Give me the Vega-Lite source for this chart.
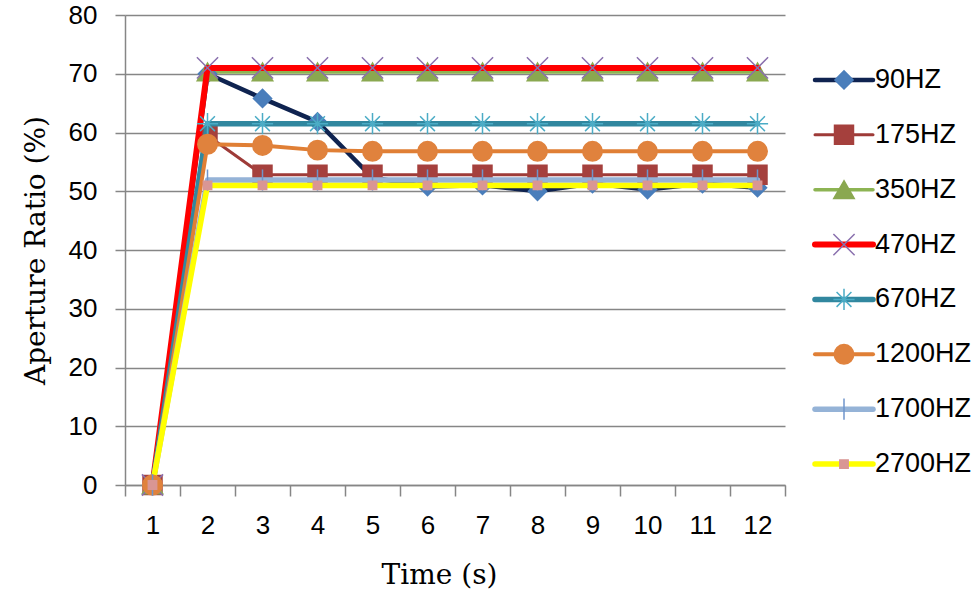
{
  "$schema": "https://vega.github.io/schema/vega-lite/v6.json",
  "background": "white",
  "padding": {"left": 22, "top": 2, "right": 0, "bottom": 0},
  "autosize": {"type": "pad"},
  "bounds": "flush",
  "spacing": 30,
  "config": {"view": {"stroke": null}, "font": "Liberation Sans"},
  "datasets": {
    "aperture": [
      {"t": 1, "series": "90HZ", "v": 0}, {"t": 2, "series": "90HZ", "v": 70}, {"t": 3, "series": "90HZ", "v": 65.8}, {"t": 4, "series": "90HZ", "v": 61.8},
      {"t": 5, "series": "90HZ", "v": 52.3}, {"t": 6, "series": "90HZ", "v": 50.8}, {"t": 7, "series": "90HZ", "v": 51.0}, {"t": 8, "series": "90HZ", "v": 50.0},
      {"t": 9, "series": "90HZ", "v": 51.3}, {"t": 10, "series": "90HZ", "v": 50.3}, {"t": 11, "series": "90HZ", "v": 51.3}, {"t": 12, "series": "90HZ", "v": 50.6},
      {"t": 1, "series": "175HZ", "v": 0}, {"t": 2, "series": "175HZ", "v": 59.5}, {"t": 3, "series": "175HZ", "v": 52.8}, {"t": 4, "series": "175HZ", "v": 52.8},
      {"t": 5, "series": "175HZ", "v": 52.8}, {"t": 6, "series": "175HZ", "v": 52.8}, {"t": 7, "series": "175HZ", "v": 52.8}, {"t": 8, "series": "175HZ", "v": 52.8},
      {"t": 9, "series": "175HZ", "v": 52.8}, {"t": 10, "series": "175HZ", "v": 52.8}, {"t": 11, "series": "175HZ", "v": 52.8}, {"t": 12, "series": "175HZ", "v": 52.8},
      {"t": 1, "series": "350HZ", "v": 0}, {"t": 2, "series": "350HZ", "v": 70.3}, {"t": 3, "series": "350HZ", "v": 70.3}, {"t": 4, "series": "350HZ", "v": 70.3},
      {"t": 5, "series": "350HZ", "v": 70.3}, {"t": 6, "series": "350HZ", "v": 70.3}, {"t": 7, "series": "350HZ", "v": 70.3}, {"t": 8, "series": "350HZ", "v": 70.3},
      {"t": 9, "series": "350HZ", "v": 70.3}, {"t": 10, "series": "350HZ", "v": 70.3}, {"t": 11, "series": "350HZ", "v": 70.3}, {"t": 12, "series": "350HZ", "v": 70.3},
      {"t": 1, "series": "470HZ", "v": 0}, {"t": 2, "series": "470HZ", "v": 71}, {"t": 3, "series": "470HZ", "v": 71}, {"t": 4, "series": "470HZ", "v": 71},
      {"t": 5, "series": "470HZ", "v": 71}, {"t": 6, "series": "470HZ", "v": 71}, {"t": 7, "series": "470HZ", "v": 71}, {"t": 8, "series": "470HZ", "v": 71},
      {"t": 9, "series": "470HZ", "v": 71}, {"t": 10, "series": "470HZ", "v": 71}, {"t": 11, "series": "470HZ", "v": 71}, {"t": 12, "series": "470HZ", "v": 71},
      {"t": 1, "series": "670HZ", "v": 0}, {"t": 2, "series": "670HZ", "v": 61.5}, {"t": 3, "series": "670HZ", "v": 61.5}, {"t": 4, "series": "670HZ", "v": 61.5},
      {"t": 5, "series": "670HZ", "v": 61.5}, {"t": 6, "series": "670HZ", "v": 61.5}, {"t": 7, "series": "670HZ", "v": 61.5}, {"t": 8, "series": "670HZ", "v": 61.5},
      {"t": 9, "series": "670HZ", "v": 61.5}, {"t": 10, "series": "670HZ", "v": 61.5}, {"t": 11, "series": "670HZ", "v": 61.5}, {"t": 12, "series": "670HZ", "v": 61.5},
      {"t": 1, "series": "1200HZ", "v": 0}, {"t": 2, "series": "1200HZ", "v": 58.0}, {"t": 3, "series": "1200HZ", "v": 57.8}, {"t": 4, "series": "1200HZ", "v": 57.0},
      {"t": 5, "series": "1200HZ", "v": 56.8}, {"t": 6, "series": "1200HZ", "v": 56.8}, {"t": 7, "series": "1200HZ", "v": 56.8}, {"t": 8, "series": "1200HZ", "v": 56.8},
      {"t": 9, "series": "1200HZ", "v": 56.8}, {"t": 10, "series": "1200HZ", "v": 56.8}, {"t": 11, "series": "1200HZ", "v": 56.8}, {"t": 12, "series": "1200HZ", "v": 56.8},
      {"t": 1, "series": "1700HZ", "v": 0}, {"t": 2, "series": "1700HZ", "v": 51.9}, {"t": 3, "series": "1700HZ", "v": 51.9}, {"t": 4, "series": "1700HZ", "v": 51.9},
      {"t": 5, "series": "1700HZ", "v": 51.9}, {"t": 6, "series": "1700HZ", "v": 51.9}, {"t": 7, "series": "1700HZ", "v": 51.9}, {"t": 8, "series": "1700HZ", "v": 51.9},
      {"t": 9, "series": "1700HZ", "v": 51.9}, {"t": 10, "series": "1700HZ", "v": 51.9}, {"t": 11, "series": "1700HZ", "v": 51.9}, {"t": 12, "series": "1700HZ", "v": 51.9},
      {"t": 1, "series": "2700HZ", "v": 0}, {"t": 2, "series": "2700HZ", "v": 51.0}, {"t": 3, "series": "2700HZ", "v": 51.0}, {"t": 4, "series": "2700HZ", "v": 51.0},
      {"t": 5, "series": "2700HZ", "v": 51.0}, {"t": 6, "series": "2700HZ", "v": 51.0}, {"t": 7, "series": "2700HZ", "v": 51.0}, {"t": 8, "series": "2700HZ", "v": 51.0},
      {"t": 9, "series": "2700HZ", "v": 51.0}, {"t": 10, "series": "2700HZ", "v": 51.0}, {"t": 11, "series": "2700HZ", "v": 51.0}, {"t": 12, "series": "2700HZ", "v": 51.0}
    ],
    "series": [
      {"series": "90HZ"}, {"series": "175HZ"}, {"series": "350HZ"}, {"series": "470HZ"},
      {"series": "670HZ"}, {"series": "1200HZ"}, {"series": "1700HZ"}, {"series": "2700HZ"}
    ]
  },
  "hconcat": [
    {
      "width": 660,
      "height": 470,
      "data": {"name": "aperture"},
      "encoding": {
        "x": {
          "field": "t", "type": "ordinal",
          "scale": {"type": "band", "paddingInner": 0, "paddingOuter": 0},
          "axis": {
            "title": "Time (s)", "titleFont": "DejaVu Serif", "titleFontSize": 28, "titleFontWeight": "normal",
            "titleColor": "black", "titlePadding": 23, "titleX": 314,
            "labelAngle": 0, "labelFontSize": 26, "labelColor": "black", "labelPadding": 16,
            "tickBand": "extent", "tickSize": 11, "tickColor": "#868686", "domainColor": "#868686",
            "domainWidth": 1.5, "tickWidth": 1.5, "grid": false
          }
        },
        "y": {
          "field": "v", "type": "quantitative",
          "scale": {"domain": [0, 80], "nice": false},
          "axis": {
            "title": "Aperture Ratio (%)", "titleFont": "DejaVu Serif", "titleFontSize": 28, "titleFontWeight": "normal",
            "titleColor": "black", "titlePadding": 18,
            "values": [0, 10, 20, 30, 40, 50, 60, 70, 80],
            "labelFontSize": 26, "labelColor": "black", "labelPadding": 18,
            "tickSize": 10, "tickColor": "#868686", "domainColor": "#868686", "domainWidth": 1.5, "tickWidth": 1.5,
            "grid": true, "gridColor": "#868686", "gridWidth": 1.5
          }
        }
      },
      "layer": [
        {
          "transform": [{"filter": {"field": "series", "oneOf": ["90HZ", "175HZ", "350HZ"]}}],
          "mark": {"type": "line", "strokeJoin": "round", "strokeCap": "round"},
          "encoding": {
            "stroke": {"field": "series", "type": "nominal", "legend": null,
              "scale": {"domain": ["90HZ", "175HZ", "350HZ", "470HZ", "670HZ", "1200HZ", "1700HZ", "2700HZ"],
                        "range": ["#0F2350", "#9E3B38", "#8DB453", "#FF0000", "#31879F", "#E07F35", "#95B3D7", "#FFFF00"]}},
            "strokeWidth": {"field": "series", "type": "nominal", "legend": null,
              "scale": {"type": "ordinal", "domain": ["90HZ", "175HZ", "350HZ", "470HZ", "670HZ", "1200HZ", "1700HZ", "2700HZ"],
                        "range": [4.5, 3, 3.5, 6, 5.5, 4, 5.5, 5.5]}}
          }
        },
        {
          "transform": [{"filter": {"field": "series", "oneOf": ["90HZ", "175HZ", "350HZ"]}}],
          "mark": {"type": "point", "filled": false, "opacity": 1, "strokeWidth": 1.5},
          "encoding": {
            "color": {"field": "series", "type": "nominal", "legend": null,
              "scale": {"domain": ["90HZ", "175HZ", "350HZ", "470HZ", "670HZ", "1200HZ", "1700HZ", "2700HZ"],
                        "range": ["#4A7EBB", "#A5403D", "#8AA850", "#8A70AE", "#4BACC6", "#E0823D", "#6F95CB", "#D99694"]}},
            "fill": {"field": "series", "type": "nominal", "legend": null,
              "scale": {"domain": ["90HZ", "175HZ", "350HZ", "470HZ", "670HZ", "1200HZ", "1700HZ", "2700HZ"],
                        "range": ["#4A7EBB", "#A5403D", "#8AA850", "#8A70AE", "#4BACC6", "#E0823D", "#6F95CB", "#D99694"]}},
            "shape": {"field": "series", "type": "nominal", "legend": null,
              "scale": {"domain": ["90HZ", "175HZ", "350HZ", "470HZ", "670HZ", "1200HZ", "1700HZ", "2700HZ"],
                        "range": ["diamond", "square", "triangle-up", "M-1,-1L1,1M-1,1L1,-1", "M-1,0L1,0M0,-1L0,1M-0.7,-0.7L0.7,0.7M-0.7,0.7L0.7,-0.7", "circle", "M0,-1L0,1", "square"]}},
            "size": {"field": "series", "type": "nominal", "legend": null,
              "scale": {"type": "ordinal", "domain": ["90HZ", "175HZ", "350HZ", "470HZ", "670HZ", "1200HZ", "1700HZ", "2700HZ"],
                        "range": [330, 360, 420, 450, 450, 380, 450, 70]}}
          }
        },
        {
          "transform": [{"filter": {"field": "series", "oneOf": ["470HZ", "670HZ", "1200HZ", "1700HZ", "2700HZ"]}}],
          "mark": {"type": "line", "strokeJoin": "round", "strokeCap": "round"},
          "encoding": {
            "stroke": {"field": "series", "type": "nominal", "legend": null},
            "strokeWidth": {"field": "series", "type": "nominal", "legend": null,
              "scale": {"type": "ordinal", "domain": ["90HZ", "175HZ", "350HZ", "470HZ", "670HZ", "1200HZ", "1700HZ", "2700HZ"],
                        "range": [4.5, 3, 3.5, 6, 5.5, 4, 5.5, 5.5]}}
          }
        },
        {
          "transform": [{"filter": {"field": "series", "oneOf": ["470HZ", "670HZ", "1200HZ", "1700HZ", "2700HZ"]}}],
          "mark": {"type": "point", "filled": false, "opacity": 1, "strokeWidth": 1.5},
          "encoding": {
            "color": {"field": "series", "type": "nominal", "legend": null},
            "fill": {"field": "series", "type": "nominal", "legend": null},
            "shape": {"field": "series", "type": "nominal", "legend": null},
            "size": {"field": "series", "type": "nominal", "legend": null,
              "scale": {"type": "ordinal", "domain": ["90HZ", "175HZ", "350HZ", "470HZ", "670HZ", "1200HZ", "1700HZ", "2700HZ"],
                        "range": [330, 360, 420, 450, 450, 380, 450, 70]}}
          }
        }
      ]
    },
    {
      "width": 58,
      "height": 470,
      "data": {"name": "series"},
      "encoding": {
        "y": {"field": "series", "type": "nominal", "axis": null,
          "sort": ["90HZ", "175HZ", "350HZ", "470HZ", "670HZ", "1200HZ", "1700HZ", "2700HZ"],
          "scale": {"type": "band", "paddingInner": 0, "paddingOuter": 0, "range": [37.5, 476.5]}}
      },
      "layer": [
        {
          "mark": {"type": "rule", "strokeCap": "round"},
          "encoding": {
            "x": {"datum": 0, "type": "quantitative", "scale": {"domain": [0, 1]}, "axis": null},
            "x2": {"datum": 1},
            "stroke": {"field": "series", "type": "nominal", "legend": null},
            "strokeWidth": {"field": "series", "type": "nominal", "legend": null,
              "scale": {"type": "ordinal", "domain": ["90HZ", "175HZ", "350HZ", "470HZ", "670HZ", "1200HZ", "1700HZ", "2700HZ"],
                        "range": [4.5, 3, 3.5, 6, 5.5, 4, 5.5, 5.5]}}
          }
        },
        {
          "mark": {"type": "point", "filled": false, "opacity": 1, "strokeWidth": 1.5},
          "encoding": {
            "x": {"datum": 0.5, "type": "quantitative"},
            "color": {"field": "series", "type": "nominal", "legend": null},
            "fill": {"field": "series", "type": "nominal", "legend": null},
            "shape": {"field": "series", "type": "nominal", "legend": null},
            "size": {"field": "series", "type": "nominal", "legend": null,
              "scale": {"type": "ordinal", "domain": ["90HZ", "175HZ", "350HZ", "470HZ", "670HZ", "1200HZ", "1700HZ", "2700HZ"],
                        "range": [330, 360, 420, 450, 450, 380, 450, 70]}}
          }
        },
        {
          "mark": {"type": "text", "align": "left", "baseline": "middle", "dx": 2, "fontSize": 27, "font": "Liberation Sans", "color": "black"},
          "encoding": {
            "x": {"datum": 1, "type": "quantitative"},
            "text": {"field": "series", "type": "nominal"}
          }
        }
      ]
    }
  ]
}
